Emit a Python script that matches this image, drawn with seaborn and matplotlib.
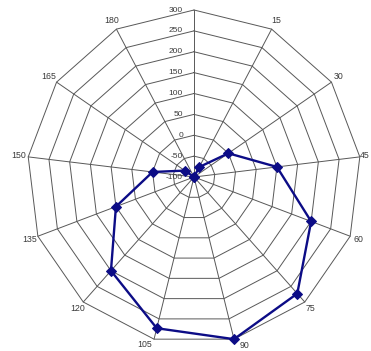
import numpy as np
import pandas as pd
import matplotlib
matplotlib.use("Agg")
import matplotlib.pyplot as plt
import seaborn as sns
from matplotlib.transforms import offset_copy

# Angle categories (degrees) and the measured response at each
categories = ["0", "15", "30", "45", "60", "75", "90", "105", "120", "135", "150", "165", "180"]
values = [-100, -73, 0, 100, 200, 273, 300, 273, 200, 100, 0, -73, -100]
ring_levels = [-100, -50, 0, 50, 100, 150, 200, 250, 300]

sns.set_theme(style="white")
plt.rcParams["font.family"] = ["Liberation Sans", "DejaVu Sans"]

GRID = "#585858"
LINE = "#0c0c86"
TEXT = "#3a3a3a"

fig = plt.figure(figsize=(3.71, 3.51), dpi=100)
fig.patch.set_facecolor("white")
ax = fig.add_axes([0.0728, 0.0199, 0.9003, 0.9516], projection="polar")
ax.set_theta_zero_location("N")
ax.set_theta_direction(-1)
ax.set_ylim(ring_levels[0], ring_levels[-1])
ax.grid(False)
ax.spines["polar"].set_visible(False)
ax.set_xticks([])
ax.set_yticks([])
ax.patch.set_facecolor("white")

n = len(categories)
theta = np.linspace(0, 2 * np.pi, n, endpoint=False)
theta_closed = np.append(theta, theta[0])

# polygon web: rings and spokes
for lvl in ring_levels[1:]:
    ax.plot(theta_closed, [lvl] * (n + 1), color=GRID, lw=0.7, clip_on=False, zorder=1)
for t in theta:
    ax.plot([t, t], [ring_levels[0], ring_levels[-1]], color=GRID, lw=0.7, clip_on=False, zorder=1)

# data series
df = pd.DataFrame({"theta": theta_closed, "value": values + [values[0]]})
sns.lineplot(data=df, x="theta", y="value", sort=False, ax=ax, color=LINE,
             lw=1.7, marker="D", markersize=5.5, markeredgecolor=LINE,
             markerfacecolor=LINE, zorder=3)
for ln in ax.lines:
    ln.set_clip_on(False)
ax.set_xlabel("")
ax.set_ylabel("")

# radial value labels beside the top spoke
lab_tr = offset_copy(ax.transData, fig=fig, x=-11, y=0, units="dots")
for lvl in ring_levels:
    ax.text(0, lvl, str(lvl), transform=lab_tr, ha="right", va="center",
            fontsize=6, color=TEXT, zorder=4)

# category labels around the web (the top spoke carries the value scale)
nudge = {"45": (-4, 0), "90": (8, 3), "105": (-7, 4)}
for t, cat in zip(theta[1:], categories[1:]):
    dx, dy = nudge.get(cat, (0, 0))
    tr = offset_copy(ax.transData, fig=fig, x=dx, y=dy, units="dots")
    ax.text(t, 322, cat, transform=tr, ha="center", va="center",
            fontsize=6.3, color=TEXT)

fig.savefig("out.png", dpi=100, facecolor="white")
